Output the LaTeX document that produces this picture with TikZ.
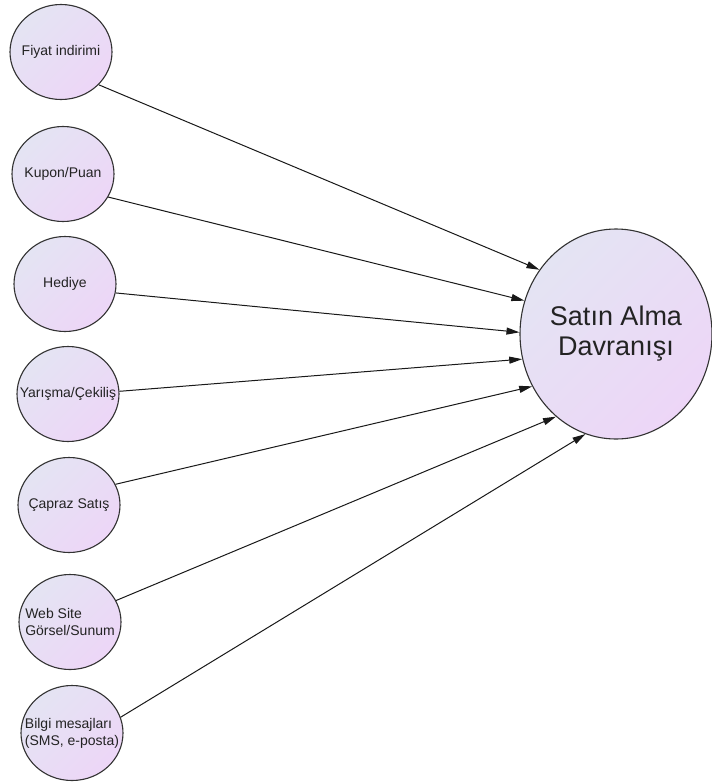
\documentclass[tikz,border=0pt]{standalone}
\usepackage{fontspec}
\setmainfont{Liberation Sans}
\usetikzlibrary{shapes.geometric,arrows.meta}
\definecolor{fillA}{RGB}{228,228,243}
\definecolor{fillB}{RGB}{237,214,247}
\definecolor{txt}{RGB}{35,35,35}
\definecolor{edge}{RGB}{50,50,50}
\begin{document}
\begin{tikzpicture}[x=1pt,y=-1pt,
  small/.style={ellipse, draw=edge, line width=1.1pt, minimum width=102pt, minimum height=95pt, inner sep=0pt,
    top color=fillA, bottom color=fillB, shading angle=45},
  big/.style={ellipse, draw=edge, line width=1.1pt, minimum width=192pt, minimum height=210pt, inner sep=0pt,
    top color=fillA, bottom color=fillB, shading angle=45},
  lbl/.style={text=txt, font=\fontsize{14}{17}\selectfont, inner sep=0pt, align=left},
  biglbl/.style={text=txt, font=\fontsize{27}{30}\selectfont, inner sep=0pt, align=center},
  arr/.style={draw=black!90, line width=1pt, -{Triangle[length=13pt,width=7pt]}}]
\useasboundingbox (0,0) rectangle (712,782);
\fill[white] (0,0) rectangle (712,782);

\node[small] (n1) at (61,52) {};
\node[small] (n2) at (63,174) {};
\node[small] (n3) at (65,284) {};
\node[small] (n4) at (68,394) {};
\node[small] (n5) at (69,505) {};
\node[small] (n6) at (70,622) {};
\node[small] (n7) at (72,733) {};
\node[big] (b) at (616,334) {};

\node[lbl] (t1) at (n1) {Fiyat indirimi};
\node[lbl] (t2) at (n2) {Kupon/Puan};
\node[lbl] (t3) at (n3) {Hediye};
\node[lbl] (t4) at (n4) {Yarışma/Çekiliş};
\node[lbl] (t5) at (n5) {Çapraz Satış};
\node[lbl] (t6) at (n6) {Web Site\\Görsel/Sunum};
\node[lbl] (t7) at (n7) {Bilgi mesajları\\(SMS, e-posta)};
\node[biglbl] (tb) at (b) {Satın Alma\\Davranışı};

\draw[arr] (n1.-41) -- (b.140);
\draw[arr] (n2.-27) -- (b.160.6);
\draw[arr] (n3.-10) -- (b.179.4);
\draw[arr] (n4.3) -- (b.195.5);
\draw[arr] (n5.24) -- (b.212.5);
\draw[arr] (n6.25) -- (b.234);
\draw[arr] (n7.18) -- (b.253);
\end{tikzpicture}
\end{document}
